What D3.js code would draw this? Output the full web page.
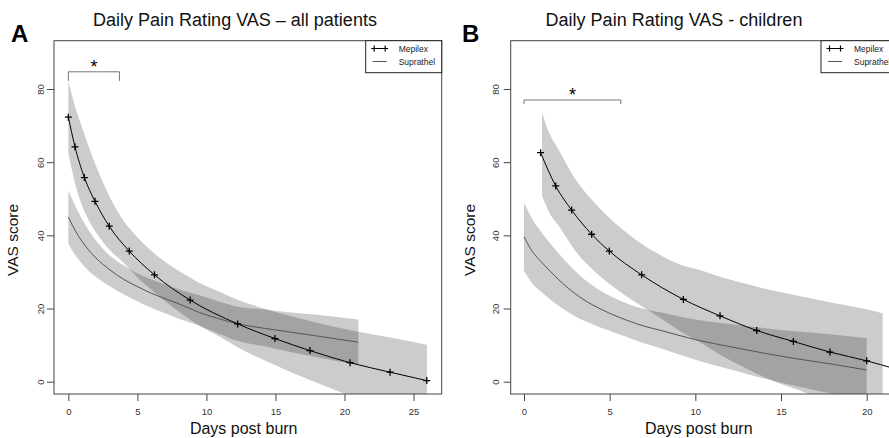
<!DOCTYPE html>
<html>
<head>
<meta charset="utf-8">
<script src="https://cdn.jsdelivr.net/npm/d3@7"></script>
<style>
body { margin: 0; background: #fff; }
svg { display: block; font-family: "Liberation Sans", Arial, sans-serif; }
</style>
</head>
<body>
<svg id="chart" width="889" height="438"></svg>
<script>
// ---------- data ----------
const yTicks = [0, 20, 40, 60, 80];
const xTicksA = [0, 5, 10, 15, 20, 25];
const xTicksB = [0, 5, 10, 15, 20];
const seriesNames = ["Mepilex", "Suprathel"];

// A - all patients, Mepilex (points with markers)
const mepA_day = [0, 0.48, 1.16, 1.93, 2.96, 4.41, 6.24, 8.82, 12.26, 14.96, 17.5, 20.4, 23.3, 25.96];
const mepA_vas = [72.3, 64.2, 55.8, 49.3, 42.5, 35.7, 29.2, 22.3, 15.8, 11.8, 8.5, 5.2, 2.6, 0.3];
const mepA_bandDay = [0, 0.5, 1, 1.5, 2, 3, 4, 5, 6, 7, 8, 9.5, 11, 12.3, 14, 16, 18, 20, 22, 24, 25.97];
const mepA_lo = [62.5, 54, 48, 44, 40.8, 36, 32.5, 28.5, 25.2, 22, 19.2, 15.3, 12.2, 9.3, 6.2, 2.8, -0.3, -3.2, -5.4, -7.4, -9.5];
const mepA_hi = [82.1, 75, 69.5, 64, 59, 50.5, 44, 39.5, 35.8, 32.8, 30.3, 27, 24.5, 22.3, 20.2, 18, 16.1, 14.4, 13, 11.6, 10.1];

// A - all patients, Suprathel
const supA_day = [0, 0.5, 1, 2, 3, 4, 5, 6, 7, 8, 9.5, 11, 12.3, 14, 16, 18, 21];
const supA_vas = [45, 41.3, 38.3, 33.8, 30.6, 28, 26, 24.2, 22.7, 21.3, 18.9, 17.1, 15.8, 14.7, 13.6, 12.5, 10.8];
const supA_lo = [37.7, 34.6, 32.2, 28.6, 26.1, 23.9, 22, 20.2, 18.7, 17.2, 15.3, 13, 11.1, 9.8, 8.2, 6.7, 4.6];
const supA_hi = [52.3, 48, 44.4, 38.6, 34.5, 31.8, 29.6, 28, 26.6, 25.3, 23.6, 21.8, 20.5, 19.8, 19, 18.3, 17];

// B - children, Mepilex
const mepB_day = [0.97, 1.85, 2.78, 3.95, 4.98, 6.87, 9.3, 11.44, 13.58, 15.72, 17.86, 20.0];
const mepB_vas = [62.6, 53.5, 46.9, 40.3, 35.7, 29.2, 22.5, 18.0, 14.0, 11.0, 8.1, 5.7];
const mepB_tail = [21.6, 3.6];
const mepB_bandDay = [1.05, 1.5, 2, 3, 4, 5, 6, 7, 8, 9.3, 10, 12, 14, 16, 18, 20, 20.93];
const mepB_lo = [50.9, 46, 42.8, 35.7, 30.7, 26.7, 23.3, 20.2, 17.3, 13.3, 11.5, 5.9, 1.3, -2.3, -5.6, -8.4, -10.1];
const mepB_hi = [73.5, 67.6, 63.6, 55.3, 49.5, 44.7, 40.7, 37.2, 34.5, 31.7, 30.9, 27.9, 25.5, 23.5, 21.6, 19.8, 18.7];

// B - children, Suprathel
const supB_day = [0, 0.5, 1, 2, 3, 4, 5, 6, 7, 8, 10, 12, 14, 16, 18, 20];
const supB_vas = [39.6, 35.5, 32.8, 28, 24, 21, 18.7, 16.8, 15.2, 14, 11.5, 9.6, 7.8, 6.2, 4.8, 3.2];
const supB_lo = [30.3, 26.7, 24.6, 20.8, 17.8, 15.7, 13.9, 12.2, 10.5, 9.1, 6, 3.4, 0.9, -1.3, -3.3, -5.5];
const supB_hi = [48.9, 44.3, 41, 35.2, 30.2, 26.3, 23.5, 21.4, 19.9, 18.9, 17, 15.8, 14.7, 13.7, 12.9, 11.9];

// significance brackets: [from day, to day, top, tip end]
const bracketA = [0, 3.7, 84.7, 82.2];
const bracketB = [0, 5.65, 77, 75.9];

// ---------- layout ----------
const plotTop = 40.7, plotBottom = 394, plotW = 387.7;
const svg = d3.select("#chart");
const defs = svg.append("defs");

function drawPanel(p) {
  const x = d3.scaleLinear().domain(p.xDomain).range([p.left, p.left + plotW]);
  const y = d3.scaleLinear().domain([-3.36, 93.2]).range([plotBottom, plotTop]);
  const g = svg.append("g");

  defs.append("clipPath").attr("id", "clip" + p.key)
    .append("rect")
    .attr("x", p.left).attr("y", plotTop)
    .attr("width", plotW).attr("height", plotBottom - plotTop);

  const plot = g.append("g").attr("clip-path", `url(#clip${p.key})`);

  // confidence bands (overlap turns darker)
  const area = d3.area()
    .x(d => x(d[0])).y0(d => y(d[1])).y1(d => y(d[2]))
    .curve(d3.curveMonotoneX);
  [p.supBand, p.mepBand].forEach(b => {
    plot.append("path")
      .datum(d3.zip(b[0], b[1], b[2]))
      .attr("d", area)
      .attr("fill", "#000")
      .attr("fill-opacity", 0.2);
  });

  const line = d3.line().x(d => x(d[0])).y(d => y(d[1])).curve(d3.curveMonotoneX);

  // Suprathel
  plot.append("path")
    .datum(d3.zip(p.sup[0], p.sup[1]))
    .attr("d", line)
    .attr("fill", "none").attr("stroke", "#555").attr("stroke-width", 1);

  // Mepilex
  const mepPts = d3.zip(p.mep[0], p.mep[1]);
  plot.append("path")
    .datum(p.tail ? mepPts.concat([p.tail]) : mepPts)
    .attr("d", line)
    .attr("fill", "none").attr("stroke", "#000").attr("stroke-width", 1);

  plot.selectAll(".mk")
    .data(mepPts)
    .enter().append("path")
    .attr("class", "mk")
    .attr("d", d => {
      const cx = x(d[0]), cy = y(d[1]);
      return `M${cx - 3.5},${cy}H${cx + 3.5}M${cx},${cy - 3.5}V${cy + 3.5}`;
    })
    .attr("stroke", "#000").attr("stroke-width", 1.3);

  // box
  g.append("rect")
    .attr("x", p.left).attr("y", plotTop)
    .attr("width", plotW).attr("height", plotBottom - plotTop)
    .attr("fill", "none").attr("stroke", "#444").attr("stroke-width", 1);

  // axes
  const xAxis = g.append("g")
    .attr("transform", `translate(0,${plotBottom})`)
    .call(d3.axisBottom(x).tickValues(p.xTicks).tickSize(7).tickFormat(d3.format("d")));
  xAxis.select(".domain").remove();
  xAxis.selectAll("line").attr("stroke", "#444");
  xAxis.selectAll("text").attr("y", 14).attr("fill", "#333")
    .style("font-size", "9.5px").style("font-family", "Liberation Sans, Arial, sans-serif");

  const yAxis = g.append("g")
    .attr("transform", `translate(${p.left},0)`)
    .call(d3.axisLeft(y).tickValues(yTicks).tickSize(7));
  yAxis.select(".domain").remove();
  yAxis.selectAll("line").attr("stroke", "#444");
  yAxis.selectAll("text")
    .attr("transform", "rotate(-90)")
    .attr("x", 0).attr("y", -p.yLabOff).attr("dy", null)
    .attr("fill", "#333")
    .style("text-anchor", "middle")
    .style("font-size", "9.5px").style("font-family", "Liberation Sans, Arial, sans-serif");

  // axis titles
  g.append("text")
    .attr("x", x(p.xTitleAt)).attr("y", 434)
    .attr("text-anchor", "middle")
    .style("font-size", "16px").attr("fill", "#111")
    .text("Days post burn");
  g.append("text")
    .attr("transform", `translate(${p.left - p.yTitleOff},240) rotate(-90)`)
    .attr("text-anchor", "middle")
    .style("font-size", "15.5px").attr("fill", "#111")
    .text("VAS score");

  // main title + panel letter
  g.append("text")
    .attr("x", p.titleX).attr("y", 26)
    .attr("text-anchor", "middle")
    .style("font-size", "18px").attr("fill", "#111")
    .text(p.title);
  g.append("text")
    .attr("x", p.letterX).attr("y", 42)
    .style("font-size", "24px").style("font-weight", "bold")
    .text(p.letter);

  // significance bracket
  const br = p.bracket;
  g.append("path")
    .attr("d", `M${x(br[0])},${y(br[3])}V${y(br[2])}H${x(br[1])}V${y(br[3])}`)
    .attr("fill", "none").attr("stroke", "#777").attr("stroke-width", 1);
  g.append("text")
    .attr("x", x((br[0] + br[1]) / 2)).attr("y", y(br[2]) + 1.5)
    .attr("text-anchor", "middle")
    .style("font-size", "18px")
    .text("*");

  // legend
  const lg = g.append("g");
  lg.append("rect")
    .attr("x", p.legendX).attr("y", plotTop)
    .attr("width", p.left + plotW - p.legendX).attr("height", 32)
    .attr("fill", "#fff").attr("stroke", "#222").attr("stroke-width", 1);
  const ly = [48.5, 61.5];
  seriesNames.forEach((name, i) => {
    const sx = p.legendX + 7;
    lg.append("line")
      .attr("x1", sx).attr("x2", sx + 14).attr("y1", ly[i]).attr("y2", ly[i])
      .attr("stroke", i === 0 ? "#000" : "#555").attr("stroke-width", 1);
    if (i === 0) {
      [sx + 1.5, sx + 12.5].forEach(cx => {
        lg.append("path")
          .attr("d", `M${cx - 3},${ly[i]}H${cx + 3}M${cx},${ly[i] - 3}V${ly[i] + 3}`)
          .attr("stroke", "#000").attr("stroke-width", 1.2);
      });
    }
    lg.append("text")
      .attr("x", sx + 26).attr("y", ly[i] + 3)
      .style("font-size", "8.5px").attr("fill", "#222")
      .text(name);
  });
}

drawPanel({
  key: "A", left: 54, xDomain: [-1.04, 27.04], xTicks: xTicksA,
  mep: [mepA_day, mepA_vas], mepBand: [mepA_bandDay, mepA_lo, mepA_hi],
  sup: [supA_day, supA_vas], supBand: [supA_day, supA_lo, supA_hi],
  bracket: bracketA, title: "Daily Pain Rating VAS \u2013 all patients",
  titleX: 235, letter: "A", letterX: 11, legendX: 365.7,
  yLabOff: 10.5, yTitleOff: 36, xTitleAt: 12.7
});

drawPanel({
  key: "B", left: 510.7, xDomain: [-0.776, 21.85], xTicks: xTicksB,
  mep: [mepB_day, mepB_vas], tail: mepB_tail, mepBand: [mepB_bandDay, mepB_lo, mepB_hi],
  sup: [supB_day, supB_vas], supBand: [supB_day, supB_lo, supB_hi],
  bracket: bracketB, title: "Daily Pain Rating VAS - children",
  titleX: 674, letter: "B", letterX: 462, legendX: 821,
  yLabOff: 12, yTitleOff: 36, xTitleAt: 10.2
});
</script>
</body>
</html>
